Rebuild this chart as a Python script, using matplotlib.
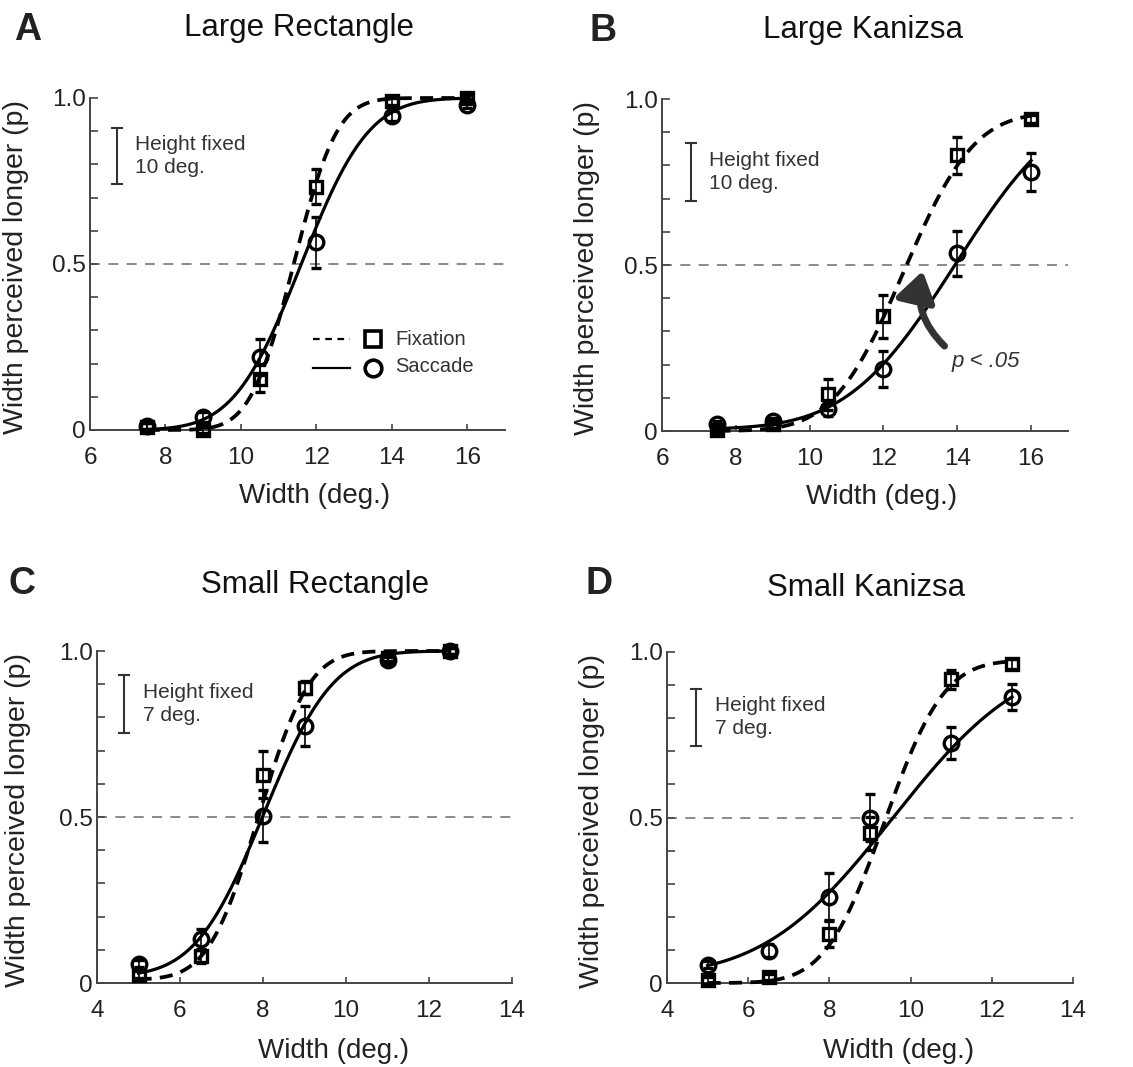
import math
import numpy as np
import matplotlib
matplotlib.use("Agg")
import matplotlib.pyplot as plt
from matplotlib.patches import FancyArrowPatch

plt.rcParams["font.family"] = ["Liberation Sans", "DejaVu Sans"]

# --- data ---
# A: Large Rectangle
a_x = [7.5, 9, 10.5, 12, 14, 16]
a_fix = [0.01, 0.0, 0.155, 0.733, 0.99, 1.0]
a_fix_err = [0.01, 0.01, 0.04, 0.053, 0.01, 0.01]
a_sac = [0.012, 0.04, 0.22, 0.565, 0.945, 0.98]
a_sac_err = [0.01, 0.015, 0.055, 0.077, 0.015, 0.01]
a_fix_fit = (11.4, 0.9, 0.0, 0.0)     # mu, sigma, guess, lapse
a_sac_fit = (11.6, 1.4, 0.0, 0.0)

# B: Large Kanizsa
b_x = [7.5, 9, 10.5, 12, 14, 16]
b_fix = [0.003, 0.02, 0.11, 0.345, 0.83, 0.94]
b_fix_err = [0.01, 0.01, 0.046, 0.065, 0.055, 0.012]
b_sac = [0.02, 0.03, 0.065, 0.187, 0.535, 0.78]
b_sac_err = [0.01, 0.01, 0.02, 0.053, 0.068, 0.056]
b_fix_fit = (12.55, 1.5, 0.0, 0.04)
b_sac_fit = (13.95, 2.3, 0.005, 0.0)

# C: Small Rectangle
c_x = [5, 6.5, 8, 9, 11, 12.5]
c_fix = [0.025, 0.08, 0.628, 0.889, 0.98, 1.0]
c_fix_err = [0.01, 0.02, 0.07, 0.02, 0.01, 0.01]
c_sac = [0.058, 0.132, 0.503, 0.775, 0.972, 1.0]
c_sac_err = [0.01, 0.03, 0.078, 0.06, 0.01, 0.01]
c_fix_fit = (7.9, 0.95, 0.01, 0.0)
c_sac_fit = (8.02, 1.3, 0.02, 0.0)

# D: Small Kanizsa
d_x = [5, 6.5, 8, 9, 11, 12.5]
d_fix = [0.008, 0.018, 0.149, 0.452, 0.917, 0.963]
d_fix_err = [0.01, 0.01, 0.04, 0.05, 0.03, 0.015]
d_sac = [0.055, 0.098, 0.26, 0.5, 0.726, 0.864]
d_sac_err = [0.01, 0.02, 0.072, 0.07, 0.048, 0.04]
d_fix_fit = (9.36, 1.15, 0.0, 0.025)
d_sac_fit = (9.57, 2.5, 0.02, 0.02)


def psy(xs, mu, sigma, g, l):
    return np.array([g + (1 - g - l) * 0.5 * (1 + math.erf((v - mu) / (sigma * math.sqrt(2))))
                     for v in xs])


fig = plt.figure(figsize=(11.33, 10.67), dpi=100)
W, H = 1133, 1067


def px_axes(l, t, r, b):
    return fig.add_axes([l / W, 1 - b / H, (r - l) / W, (b - t) / H])


def draw(ax, x, fix, fix_err, sac, sac_err, fix_fit, sac_fit, xlim, xticks):
    ax.axhline(0.5, color="#777777", lw=1.2, ls=(0, (6, 5)), zorder=1)
    xs = np.linspace(x[0], x[-1], 300)
    ax.plot(xs, psy(xs, *fix_fit), color="black", lw=2.7, ls=(0, (3.5, 2.2)),
            clip_on=False, zorder=3)
    ax.plot(xs, psy(xs, *sac_fit), color="black", lw=2.3, clip_on=False, zorder=3)
    ax.errorbar(x, fix, yerr=fix_err, fmt="s", ms=8.5, mfc="none", mec="black",
                mew=2.4, ecolor="black", elinewidth=1.2, capsize=3.5, clip_on=False,
                zorder=4)
    ax.errorbar(x, sac, yerr=sac_err, fmt="o", ms=10.5, mfc="none", mec="black",
                mew=2.4, ecolor="black", elinewidth=1.2, capsize=3.5, clip_on=False,
                zorder=5)
    ax.set_xlim(*xlim)
    ax.set_ylim(0, 1.0)
    ax.set_xticks(xticks)
    ax.set_yticks([0, 0.5, 1.0])
    ax.set_yticklabels(["0", "0.5", "1.0"])
    ax.set_yticks(np.arange(0.1, 1.0, 0.1), minor=True)
    ax.tick_params(axis="y", which="both", direction="in", length=6, width=1.2,
                   color="#444444", labelsize=17.5, pad=3, labelcolor="#222222")
    ax.tick_params(axis="x", direction="in", length=4, width=1.2, color="#444444",
                   labelsize=17.5, pad=12, labelcolor="#222222")
    for s in ["top", "right"]:
        ax.spines[s].set_visible(False)
    for s in ["left", "bottom"]:
        ax.spines[s].set_color("#444444")
        ax.spines[s].set_linewidth(1.4)
    ax.set_xlabel("Width (deg.)", fontsize=20, color="#222222")
    ax.set_ylabel("Width perceived longer (p)", fontsize=20.5, color="#222222")
    ax.patch.set_visible(False)


def height_note(ax, bx, by, tx, txt):
    ax.plot([bx, bx], by, color="#333333", lw=1.5)
    dx = (ax.get_xlim()[1] - ax.get_xlim()[0]) * 0.012
    for yv in by:
        ax.plot([bx - dx, bx + dx], [yv, yv], color="#333333", lw=1.5)
    ax.text(tx, (by[0] + by[1]) / 2, txt, fontsize=15, color="#333333",
            va="center", ha="left", linespacing=1.25)


axA = px_axes(90, 98, 505, 430)
draw(axA, a_x, a_fix, a_fix_err, a_sac, a_sac_err, a_fix_fit, a_sac_fit,
     (6, 17), [6, 8, 10, 12, 14, 16])
height_note(axA, 6.72, (0.74, 0.91), 7.2, "Height fixed\n10 deg.")

axB = px_axes(662, 99, 1068, 431)
draw(axB, b_x, b_fix, b_fix_err, b_sac, b_sac_err, b_fix_fit, b_sac_fit,
     (6, 17), [6, 8, 10, 12, 14, 16])
height_note(axB, 6.79, (0.693, 0.867), 7.27, "Height fixed\n10 deg.")

axC = px_axes(97, 651, 512, 983)
draw(axC, c_x, c_fix, c_fix_err, c_sac, c_sac_err, c_fix_fit, c_sac_fit,
     (4, 14), [4, 6, 8, 10, 12, 14])
height_note(axC, 4.66, (0.753, 0.927), 5.12, "Height fixed\n7 deg.")

axD = px_axes(667, 652, 1073, 983)
draw(axD, d_x, d_fix, d_fix_err, d_sac, d_sac_err, d_fix_fit, d_sac_fit,
     (4, 14), [4, 6, 8, 10, 12, 14])
height_note(axD, 4.72, (0.717, 0.889), 5.18, "Height fixed\n7 deg.")

for ax, lx, ly, yx in [(axA, 0.54, -0.16, -0.148), (axB, 0.54, -0.16, -0.153),
                       (axC, 0.57, -0.165, -0.16), (axD, 0.57, -0.165, -0.153)]:
    ax.xaxis.set_label_coords(lx, ly)
    ax.yaxis.set_label_coords(yx, 0.49)

# legend drawn by hand in panel A
axA.plot([11.9, 12.9], [0.273, 0.273], color="black", lw=1.6, ls=(0, (3, 2.5)))
axA.plot([11.9, 12.9], [0.186, 0.186], color="black", lw=1.6)
axA.plot([13.5], [0.273], "s", ms=11, mfc="none", mec="black", mew=2.6)
axA.plot([13.5], [0.186], "o", ms=12, mfc="none", mec="black", mew=2.6)
axA.text(14.1, 0.273, "Fixation", fontsize=14.5, color="#333333", va="center")
axA.text(14.1, 0.19, "Saccade", fontsize=14.5, color="#333333", va="center")

# significance arrow in panel B
arrow = FancyArrowPatch((13.71, 0.25), (13.08, 0.49),
                        connectionstyle="arc3,rad=-0.3",
                        arrowstyle="-|>,head_length=0.9,head_width=0.6",
                        mutation_scale=20, lw=5, color="#333333", zorder=6)
axB.add_patch(arrow)
axB.text(13.85, 0.21, "p < .05", fontsize=16, style="italic", color="#333333",
         va="center", ha="left")

# titles and panel letters
for txt, cx, cy in [("Large Rectangle", 299, 28), ("Large Kanizsa", 863, 30),
                    ("Small Rectangle", 315, 585), ("Small Kanizsa", 866, 588)]:
    fig.text(cx / W, 1 - cy / H, txt, fontsize=22.5, ha="center", va="center",
             color="#111111")
for txt, lx, ty in [("A", 14, 12), ("B", 590, 13), ("C", 8, 566), ("D", 586, 566)]:
    fig.text(lx / W, 1 - ty / H, txt, fontsize=27, fontweight="bold", ha="left",
             va="top", color="#222222")

fig.savefig("out.png", dpi=100)
